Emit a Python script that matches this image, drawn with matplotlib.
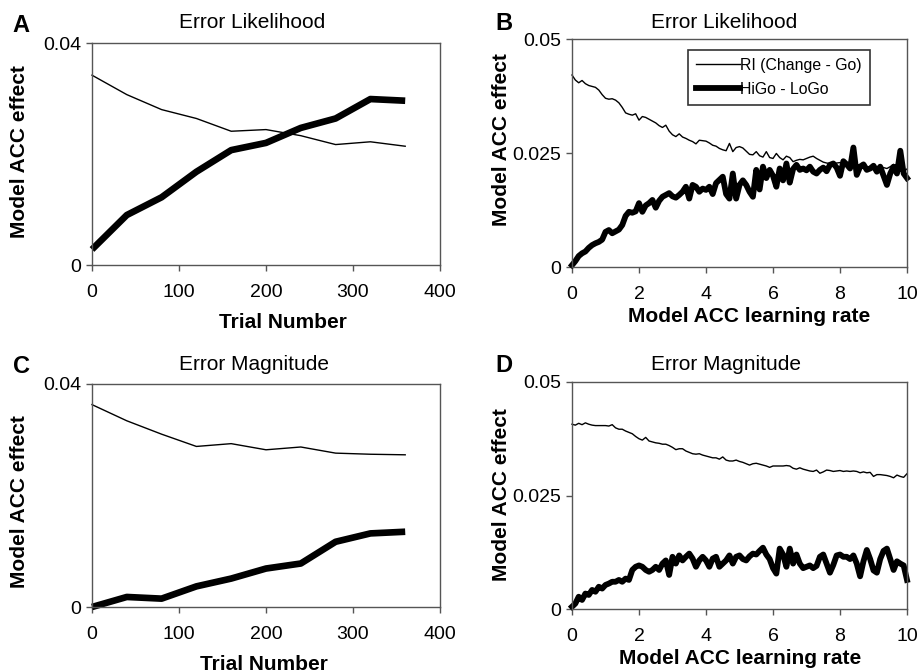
import numpy as np
import matplotlib as mpl
mpl.use('AGG')
import matplotlib.pyplot as plt

mpl.rcParams['font.family'] = ['Liberation Sans', 'DejaVu Sans']
mpl.rcParams['font.size'] = 14

# --- panels A / C : trial number ---
trials = [0, 40, 80, 120, 160, 200, 240, 280, 320, 360]

a_ri = [0.0342, 0.0307, 0.0280, 0.0264, 0.0241, 0.0244, 0.0233, 0.0217, 0.0222, 0.0214]
a_hilo = [0.0028, 0.0090, 0.0122, 0.0168, 0.0207, 0.0220, 0.0247, 0.0264, 0.0299, 0.0296]

c_ri = [0.0363, 0.0334, 0.0310, 0.0288, 0.0293, 0.0282, 0.0287, 0.0276, 0.0274, 0.0273]
c_hilo = [0.0000, 0.0018, 0.0015, 0.0037, 0.0051, 0.0069, 0.0078, 0.0117, 0.0132, 0.0135]

# --- panels B / D : learning rate 0 .. 10, step 0.1 ---
rates = np.round(np.arange(0, 101) * 0.1, 1)

b_ri = [0.0421, 0.0410, 0.0404, 0.0409, 0.0402, 0.0398, 0.0396, 0.0394, 0.0388, 0.0378,
        0.0370, 0.0368, 0.0369, 0.0366, 0.0360, 0.0350, 0.0338, 0.0335, 0.0333, 0.0336,
        0.0322, 0.0330, 0.0328, 0.0324, 0.0320, 0.0316, 0.0310, 0.0306, 0.0311, 0.0298,
        0.0290, 0.0286, 0.0292, 0.0285, 0.0282, 0.0278, 0.0275, 0.0270, 0.0278, 0.0277,
        0.0276, 0.0272, 0.0267, 0.0265, 0.0260, 0.0257, 0.0255, 0.0271, 0.0253, 0.0262,
        0.0264, 0.0261, 0.0254, 0.0247, 0.0246, 0.0253, 0.0244, 0.0241, 0.0253, 0.0240,
        0.0238, 0.0249, 0.0240, 0.0235, 0.0243, 0.0240, 0.0231, 0.0234, 0.0236, 0.0235,
        0.0238, 0.0241, 0.0243, 0.0238, 0.0234, 0.0230, 0.0228, 0.0227, 0.0227, 0.0228,
        0.0229, 0.0227, 0.0225, 0.0223, 0.0222, 0.0221, 0.0219, 0.0218, 0.0220, 0.0217,
        0.0216, 0.0219, 0.0220, 0.0218, 0.0216, 0.0220, 0.0225, 0.0212, 0.0210, 0.0209,
        0.0215]

b_hilo = [0.0004, 0.0013, 0.0024, 0.0030, 0.0034, 0.0042, 0.0048, 0.0052, 0.0055, 0.0060,
          0.0077, 0.0081, 0.0074, 0.0078, 0.0082, 0.0092, 0.0112, 0.0121, 0.0119, 0.0122,
          0.0140, 0.0121, 0.0135, 0.0140, 0.0147, 0.0130, 0.0145, 0.0154, 0.0158, 0.0162,
          0.0155, 0.0152, 0.0158, 0.0165, 0.0176, 0.0150, 0.0180, 0.0176, 0.0165, 0.0172,
          0.0169, 0.0176, 0.0160, 0.0184, 0.0191, 0.0198, 0.0160, 0.0150, 0.0205, 0.0150,
          0.0180, 0.0190, 0.0180, 0.0165, 0.0154, 0.0213, 0.0170, 0.0220, 0.0195, 0.0213,
          0.0200, 0.0176, 0.0216, 0.0190, 0.0227, 0.0185, 0.0215, 0.0224, 0.0213, 0.0216,
          0.0212, 0.0220, 0.0209, 0.0205, 0.0213, 0.0218, 0.0210, 0.0224, 0.0227, 0.0218,
          0.0200, 0.0232, 0.0225, 0.0216, 0.0262, 0.0202, 0.0220, 0.0225, 0.0213, 0.0216,
          0.0222, 0.0209, 0.0220, 0.0200, 0.0180, 0.0205, 0.0220, 0.0205, 0.0255, 0.0205,
          0.0195]

d_ri = [0.0407, 0.0405, 0.0409, 0.0406, 0.0410, 0.0407, 0.0405, 0.0404, 0.0404, 0.0404,
        0.0404, 0.0403, 0.0406, 0.0399, 0.0396, 0.0396, 0.0392, 0.0389, 0.0386, 0.0380,
        0.0375, 0.0372, 0.0378, 0.0370, 0.0368, 0.0366, 0.0365, 0.0363, 0.0363, 0.0360,
        0.0356, 0.0351, 0.0353, 0.0353, 0.0348, 0.0345, 0.0342, 0.0341, 0.0342, 0.0339,
        0.0337, 0.0335, 0.0333, 0.0333, 0.0330, 0.0335, 0.0328, 0.0326, 0.0326, 0.0328,
        0.0325, 0.0323, 0.0320, 0.0317, 0.0320, 0.0321, 0.0319, 0.0317, 0.0315, 0.0312,
        0.0315, 0.0315, 0.0315, 0.0315, 0.0316, 0.0315, 0.0310, 0.0308, 0.0311, 0.0308,
        0.0306, 0.0304, 0.0303, 0.0306, 0.0299, 0.0302, 0.0306, 0.0305, 0.0303, 0.0304,
        0.0305, 0.0303, 0.0304, 0.0303, 0.0304, 0.0303, 0.0300, 0.0302, 0.0300, 0.0301,
        0.0292, 0.0296, 0.0296, 0.0295, 0.0294, 0.0292, 0.0289, 0.0295, 0.0292, 0.0290,
        0.0298]

d_hilo = [0.0005, 0.0012, 0.0027, 0.0020, 0.0034, 0.0031, 0.0042, 0.0038, 0.0049, 0.0045,
          0.0053, 0.0056, 0.0060, 0.0060, 0.0064, 0.0060, 0.0067, 0.0064, 0.0086, 0.0093,
          0.0096, 0.0093, 0.0086, 0.0082, 0.0086, 0.0093, 0.0086, 0.0100, 0.0107, 0.0075,
          0.0115, 0.0100, 0.0118, 0.0107, 0.0115, 0.0122, 0.0111, 0.0093, 0.0107, 0.0115,
          0.0107, 0.0093, 0.0111, 0.0115, 0.0093, 0.0100, 0.0107, 0.0118, 0.0100, 0.0115,
          0.0118, 0.0110, 0.0107, 0.0116, 0.0122, 0.0120, 0.0128, 0.0135, 0.0120, 0.0110,
          0.0090, 0.0078, 0.0133, 0.0120, 0.0093, 0.0133, 0.0100, 0.0120, 0.0100, 0.0090,
          0.0093, 0.0096, 0.0090, 0.0095, 0.0115, 0.0120, 0.0100, 0.0080, 0.0097, 0.0118,
          0.0120, 0.0115, 0.0115, 0.0110, 0.0118, 0.0100, 0.0072, 0.0105, 0.0130, 0.0110,
          0.0085, 0.0080, 0.0110, 0.0128, 0.0133, 0.0110, 0.0086, 0.0105, 0.0100, 0.0096,
          0.0064]

W, H = 917., 672.
fig = plt.figure(figsize=(W / 100, H / 100), dpi=100)


def box(l, t, r, b):
    # pixel box -> figure fraction
    return [l / W, 1 - b / H, (r - l) / W, (b - t) / H]


def style(ax):
    for s in ax.spines.values():
        s.set_color('#555555')
        s.set_linewidth(1.0)
    ax.tick_params(direction='out', length=4.5, width=1.0, color='#555555',
                   labelsize=14, top=False, right=False)
    ax.tick_params(axis='y', pad=3.5)
    ax.tick_params(axis='x', pad=9.5)


def trial_panel(rect, ri, hilo, title, letter, tpos, lpos, xl, yl):
    ax = fig.add_axes(box(*rect))
    ax.plot(trials, ri, color='k', lw=1.0, clip_on=False)
    ax.plot(trials, hilo, color='k', lw=4.8, clip_on=False,
            solid_capstyle='butt', solid_joinstyle='round')
    ax.set_xlim(0, 400)
    ax.set_ylim(0, 0.04)
    ax.set_xticks([0, 100, 200, 300, 400])
    ax.set_yticks([0, 0.04])
    ax.set_yticklabels(['0', '0.04'])
    style(ax)
    ax.set_xlabel('Trial Number', fontsize=15, fontweight='bold')
    ax.set_ylabel('Model ACC effect', fontsize=15, fontweight='bold')
    ax.xaxis.set_label_coords(*xl)
    ax.yaxis.set_label_coords(*yl)
    ax.xaxis.label.set_va('center')
    ax.yaxis.label.set_va('center')
    fig.text(tpos[0] / W, 1 - tpos[1] / H, title, fontsize=15, ha='center', va='center')
    fig.text(lpos[0] / W, 1 - lpos[1] / H, letter, fontsize=17, fontweight='bold',
             ha='center', va='center')
    return ax


def rate_panel(rect, ri, hilo, title, letter, tpos, lpos, xl, yl):
    ax = fig.add_axes(box(*rect))
    ax.plot(rates, ri, color='k', lw=1.0, clip_on=False, label='RI (Change - Go)')
    ax.plot(rates, hilo, color='k', lw=4.2, clip_on=False, label='HiGo - LoGo',
            solid_joinstyle='round')
    ax.set_xlim(0, 10)
    ax.set_ylim(0, 0.05)
    ax.set_xticks([0, 2, 4, 6, 8, 10])
    ax.set_yticks([0, 0.025, 0.05])
    ax.set_yticklabels(['0', '0.025', '0.05'])
    style(ax)
    ax.set_xlabel('Model ACC learning rate', fontsize=15, fontweight='bold')
    ax.set_ylabel('Model ACC effect', fontsize=15, fontweight='bold')
    ax.xaxis.set_label_coords(*xl)
    ax.yaxis.set_label_coords(*yl)
    ax.xaxis.label.set_va('center')
    ax.yaxis.label.set_va('center')
    fig.text(tpos[0] / W, 1 - tpos[1] / H, title, fontsize=15, ha='center', va='center')
    fig.text(lpos[0] / W, 1 - lpos[1] / H, letter, fontsize=17, fontweight='bold',
             ha='center', va='center')
    return ax


trial_panel((92, 43, 440, 265), a_ri, a_hilo, 'Error Likelihood', 'A',
            (252, 23), (21, 26), (0.549, -0.257), (-0.207, 0.509))
axb = rate_panel((572, 39, 907, 267), b_ri, b_hilo, 'Error Likelihood', 'B',
                 (724, 23), (504, 23), (0.528, -0.215), (-0.209, 0.561))
trial_panel((92, 384, 440, 607), c_ri, c_hilo, 'Error Magnitude', 'C',
            (254, 364), (22, 367), (0.494, -0.256), (-0.207, 0.475))
rate_panel((572, 382, 907, 609), d_ri, d_hilo, 'Error Magnitude', 'D',
           (726, 364), (504, 366), (0.501, -0.216), (-0.209, 0.502))

leg = axb.legend(loc='upper left', bbox_to_anchor=(688 / W, 1 - 50 / H),
                 bbox_transform=fig.transFigure, fontsize=11.4, frameon=True,
                 fancybox=False, handlelength=2.8, handletextpad=0.0,
                 borderpad=0.5, labelspacing=0.55, borderaxespad=0)
leg.get_frame().set_edgecolor('k')
leg.get_frame().set_linewidth(1.2)

fig.savefig('out.png', dpi=100)
